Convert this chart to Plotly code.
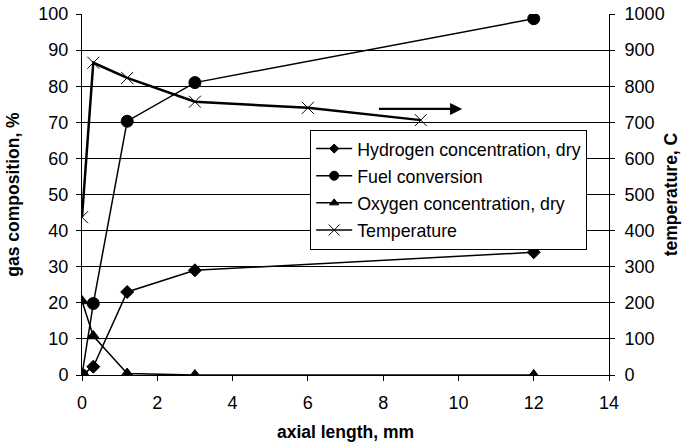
import plotly.graph_objects as go

axial_length = [0, 0.3, 1.2, 3, 12]
hydrogen = [0, 2.3, 23, 29, 34]
fuel_conversion = [0, 19.8, 70.3, 81, 98.7]
oxygen = [20.5, 10.8, 0.4, 0, 0]
temp_length = [0, 0.3, 1.2, 3, 6, 9]
temperature = [437, 865, 823, 757, 740, 706]

x_ticks = [0, 2, 4, 6, 8, 10, 12, 14]
left_ticks = list(range(0, 101, 10))
right_ticks = list(range(0, 1001, 100))

FONT = "Liberation Sans, Arial, sans-serif"

series = [
    ("Hydrogen concentration, dry", axial_length, hydrogen, "y", "diamond", 10, 1.5),
    ("Fuel conversion", axial_length, fuel_conversion, "y", "circle", 12, 1.5),
    ("Oxygen concentration, dry", axial_length, oxygen, "y", "triangle-up", 11, 1.5),
    ("Temperature", temp_length, temperature, "y2", "x-thin", 12, 2.5),
]
legend_sizes = [7, 9, 8, 11]

fig = go.Figure()
for (name, xs, ys, yax, sym, size, lw), lsize in zip(series, legend_sizes):
    fig.add_trace(go.Scatter(x=xs, y=ys, name=name, yaxis=yax, mode="lines+markers",
                             line=dict(color="black", width=lw), showlegend=False,
                             marker=dict(symbol=sym, size=size, color="black",
                                         line=dict(color="black", width=1))))
    # legend entry with smaller marker, like the original legend
    fig.add_trace(go.Scatter(x=[None], y=[None], name=name, yaxis=yax, mode="lines+markers",
                             line=dict(color="black", width=1.5), legendgroup=name,
                             marker=dict(symbol=sym, size=lsize, color="black",
                                         line=dict(color="black", width=1))))

fig.add_annotation(x=10.1, y=73.7, ax=7.85, ay=73.7, xref="x", yref="y", axref="x", ayref="y",
                   showarrow=True, arrowhead=2, arrowsize=1.1, arrowwidth=2.2, arrowcolor="black", text="")

fig.update_layout(
    width=689, height=444,
    margin=dict(l=82, r=80, t=14, b=69),
    paper_bgcolor="white", plot_bgcolor="white",
    font=dict(family=FONT, size=18, color="black"),
    showlegend=True,
    legend=dict(x=0.433, y=0.68, xanchor="left", yanchor="top",
                bordercolor="black", borderwidth=1, bgcolor="white",
                font=dict(size=17.8), tracegroupgap=1, itemwidth=36),
    xaxis=dict(range=[0, 14], tickvals=x_ticks, ticks="outside", ticklen=5, tickcolor="black",
               ticklabelstandoff=6,
               showline=True, linecolor="black", showgrid=False, zeroline=False, automargin=False,
               title=dict(text="<b>axial length, mm</b>", font=dict(size=17.5), standoff=14)),
    yaxis=dict(range=[0, 100], tickvals=left_ticks, ticks="outside", ticklen=5, tickcolor="black",
               ticklabelstandoff=4,
               showline=True, linecolor="black", showgrid=True, gridcolor="black", gridwidth=1,
               zeroline=False, automargin=False,
               title=dict(text="<b>gas composition, %</b>", font=dict(size=17.5), standoff=14)),
    yaxis2=dict(range=[0, 1000], tickvals=right_ticks, overlaying="y", side="right",
                ticks="outside", ticklen=5, tickcolor="black", ticklabelstandoff=6,
                showline=True, linecolor="black",
                showgrid=False, zeroline=False, automargin=False,
                title=dict(text="<b>temperature, C</b>", font=dict(size=17.5), standoff=1)),
)

fig.write_html("out.html", config={"displayModeBar": False},
               post_script="document.body.style.margin='0';")
